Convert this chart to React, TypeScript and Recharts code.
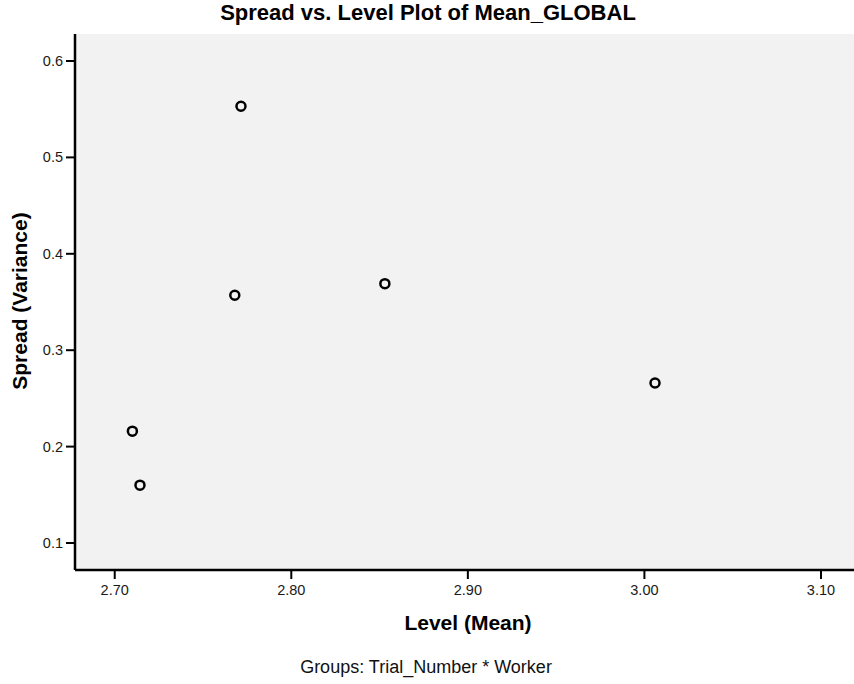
import React from 'react';
import { ScatterChart, Scatter, XAxis, YAxis, CartesianGrid } from 'recharts';

// group means (level) and variances (spread)
const levels = [2.7715, 2.768, 2.853, 3.006, 2.71, 2.7143];
const spreads = [0.553, 0.357, 0.369, 0.266, 0.216, 0.16];

const xTicks = [2.7, 2.8, 2.9, 3.0, 3.1];
const yTicks = [0.1, 0.2, 0.3, 0.4, 0.5, 0.6];

const points = levels.map((x, i) => ({ level: x, spread: spreads[i] }));

const font = '"Liberation Sans", Arial, sans-serif';

const RingDot = (props: any) => {
  const { cx, cy } = props;
  if (cx == null || cy == null) return null;
  return <circle cx={cx} cy={cy} r={4.5} fill="none" stroke="#000" strokeWidth={2.5} />;
};

const XTick = (props: any) => {
  const { x, y, payload } = props;
  return (
    <text x={x} y={y + 13} textAnchor="middle" fontSize={14.5} fontFamily={font} fill="#1a1a1a">
      {Number(payload.value).toFixed(2)}
    </text>
  );
};

const YTick = (props: any) => {
  const { x, y, payload } = props;
  return (
    <text x={x} y={y + 5} textAnchor="end" fontSize={14.5} fontFamily={font} fill="#1a1a1a">
      {Number(payload.value).toFixed(1)}
    </text>
  );
};

export default function App() {
  return (
    <div style={{ position: 'absolute', left: 0, top: 0, width: 854, height: 684, background: '#fff', fontFamily: font }}>
      <ScatterChart width={854} height={684} margin={{ top: 34, right: 0, left: 0, bottom: 0 }}>
        <CartesianGrid horizontal={false} vertical={false} fill="#f2f2f2" />
        <XAxis
          xAxisId="top"
          orientation="top"
          type="number"
          dataKey="level"
          domain={[2.6775, 3.1187]}
          height={0}
          tick={false}
          tickLine={false}
          axisLine={{ stroke: '#000', strokeWidth: 2 }}
        />
        <XAxis
          type="number"
          dataKey="level"
          domain={[2.6775, 3.1187]}
          ticks={xTicks}
          height={114}
          tickSize={9}
          tickMargin={3}
          tickLine={{ stroke: '#000', strokeWidth: 2 }}
          axisLine={{ stroke: '#000', strokeWidth: 2.5 }}
          tick={<XTick />}
          allowDataOverflow
        />
        <YAxis
          type="number"
          dataKey="spread"
          domain={[0.072, 0.628]}
          ticks={yTicks}
          width={75}
          tickSize={9}
          tickMargin={3}
          tickLine={{ stroke: '#000', strokeWidth: 2 }}
          axisLine={{ stroke: '#000', strokeWidth: 2.5 }}
          tick={<YTick />}
          allowDataOverflow
        />
        <Scatter data={points} shape={RingDot} isAnimationActive={false} />
      </ScatterChart>
      <div style={{ position: 'absolute', left: 128, top: 0, width: 600, textAlign: 'center', fontSize: 22, lineHeight: '26px', fontWeight: 'bold', color: '#000' }}>
        Spread vs. Level Plot of Mean_GLOBAL
      </div>
      <div style={{ position: 'absolute', left: 368, top: 610, width: 200, textAlign: 'center', fontSize: 21, lineHeight: '26px', fontWeight: 'bold', color: '#000' }}>
        Level (Mean)
      </div>
      <div style={{ position: 'absolute', left: 226, top: 655, width: 400, textAlign: 'center', fontSize: 18, lineHeight: '24px', color: '#111' }}>
        Groups: Trial_Number * Worker
      </div>
      <div
        style={{
          position: 'absolute',
          left: 20 - 120,
          top: 301 - 13,
          width: 240,
          height: 26,
          lineHeight: '26px',
          textAlign: 'center',
          fontSize: 21,
          fontWeight: 'bold',
          color: '#000',
          transform: 'rotate(-90deg)',
          transformOrigin: '120px 13px',
        }}
      >
        Spread (Variance)
      </div>
    </div>
  );
}
